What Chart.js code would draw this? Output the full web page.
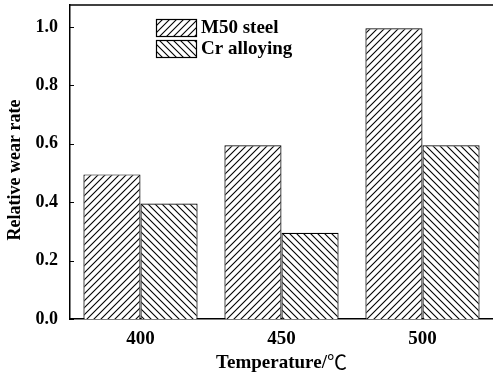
<!DOCTYPE html>
<html>
<head>
<meta charset="utf-8">
<script src="https://cdn.jsdelivr.net/npm/chart.js@4.4.1/dist/chart.umd.min.js"></script>
<style>
  html, body { margin: 0; padding: 0; background: #fff; }
  #wrap { width: 493px; height: 377px; }
</style>
</head>
<body>
<div id="wrap"><canvas id="c" width="493" height="377"></canvas></div>
<script>
// Temperatures on the x axis
const categories = ['400', '450', '500'];
// Relative wear rate for each material
const seriesNames = ['M50 steel', 'Cr alloying'];
const m50Steel = [0.495, 0.595, 0.995];
const crAlloying = [0.395, 0.295, 0.595];
// Labelled y ticks
const yTicks = [0.0, 0.2, 0.4, 0.6, 0.8, 1.0];
// Axis titles
const xTitle = 'Temperature/';
const xUnit = '℃';
const yTitle = 'Relative wear rate';

const FONT = '"Liberation Serif", "Times New Roman", serif';

// Diagonal hatch tile: dir 1 = "/", dir -1 = "\"
function hatch(dir) {
  const s = 7;
  const t = document.createElement('canvas');
  t.width = s; t.height = s;
  const g = t.getContext('2d');
  g.fillStyle = '#fff';
  g.fillRect(0, 0, s, s);
  g.strokeStyle = '#000';
  g.lineWidth = 1.1;
  g.beginPath();
  if (dir > 0) {
    g.moveTo(-1, s + 1); g.lineTo(s + 1, -1);
    g.moveTo(-1, 1); g.lineTo(1, -1);
    g.moveTo(s - 1, s + 1); g.lineTo(s + 1, s - 1);
  } else {
    g.moveTo(-1, -1); g.lineTo(s + 1, s + 1);
    g.moveTo(s - 1, -1); g.lineTo(s + 1, 1);
    g.moveTo(-1, s - 1); g.lineTo(1, s + 1);
  }
  g.stroke();
  return document.getElementById('c').getContext('2d').createPattern(t, 'repeat');
}

// Top frame line, inward y tick marks and axis titles
const framePlugin = {
  id: 'frame',
  afterDraw(chart) {
    const { ctx, chartArea } = chart;
    const y = chart.scales.y;
    ctx.save();
    ctx.strokeStyle = '#000';
    ctx.lineWidth = 1.5;
    ctx.beginPath();
    ctx.moveTo(chartArea.left, chartArea.top);
    ctx.lineTo(chartArea.right, chartArea.top);
    ctx.stroke();
    ctx.lineWidth = 1;
    yTicks.forEach(v => {
      const py = Math.round(y.getPixelForValue(v)) + 0.5;
      ctx.beginPath();
      ctx.moveTo(chartArea.left, py);
      ctx.lineTo(chartArea.left + 4, py);
      ctx.stroke();
    });

    // x title: bold text followed by a light unit sign
    ctx.fillStyle = '#000';
    ctx.textBaseline = 'middle';
    const boldFont = 'bold 19px ' + FONT;
    const unitFont = '20px "Noto Sans CJK SC", "DejaVu Sans", sans-serif';
    ctx.font = boldFont;
    const w1 = ctx.measureText(xTitle).width;
    ctx.font = unitFont;
    const w2 = ctx.measureText(xUnit).width;
    let tx = (chartArea.left + chartArea.right) / 2 - (w1 + w2) / 2;
    ctx.textAlign = 'left';
    ctx.font = boldFont;
    ctx.fillText(xTitle, tx, 363);
    ctx.font = unitFont;
    ctx.fillText(xUnit, tx + w1, 362);

    // y title, rotated
    ctx.save();
    ctx.translate(15, 170);
    ctx.rotate(-Math.PI / 2);
    ctx.textAlign = 'center';
    ctx.font = 'bold 18px ' + FONT;
    ctx.fillText(yTitle, 0, 0);
    ctx.restore();
    ctx.restore();
  }
};

// Legend drawn inside the plot area
const legendPlugin = {
  id: 'innerLegend',
  afterDraw(chart) {
    const { ctx } = chart;
    const x0 = 156, y0 = 19, bw = 40, bh = 17, gap = 21;
    ctx.save();
    ctx.font = 'bold 19px ' + FONT;
    ctx.textBaseline = 'middle';
    ctx.textAlign = 'left';
    chart.data.datasets.forEach((ds, i) => {
      const by = y0 + i * gap;
      ctx.fillStyle = ds.backgroundColor;
      ctx.fillRect(x0, by, bw, bh);
      ctx.strokeStyle = '#000';
      ctx.lineWidth = 1.2;
      ctx.strokeRect(x0 + 0.5, by + 0.5, bw, bh);
      ctx.fillStyle = '#000';
      ctx.fillText(ds.label, x0 + bw + 5, by + bh / 2 + 1);
    });
    ctx.restore();
  }
};

new Chart(document.getElementById('c'), {
  type: 'bar',
  data: {
    labels: categories,
    datasets: [
      { label: seriesNames[0], data: m50Steel, backgroundColor: hatch(1),
        borderColor: '#000', borderWidth: 1.2 },
      { label: seriesNames[1], data: crAlloying, backgroundColor: hatch(-1),
        borderColor: '#000', borderWidth: 1.2 }
    ]
  },
  options: {
    responsive: false,
    animation: false,
    devicePixelRatio: 1,
    layout: { padding: { top: 5, right: 0, left: 0, bottom: 0 } },
    datasets: { bar: { categoryPercentage: 0.81, barPercentage: 1.0 } },
    plugins: { legend: { display: false }, tooltip: { enabled: false } },
    scales: {
      x: {
        afterFit(s) { s.height = 58; s.paddingLeft = 0; s.paddingRight = 0; },
        grid: { display: false, drawTicks: false },
        border: { color: '#000', width: 1.5 },
        ticks: { color: '#000', padding: 9, font: { family: FONT, size: 19, weight: 'bold' } }
      },
      y: {
        min: 0, max: 1.075,
        afterFit(s) { s.width = 70; s.paddingTop = 0; s.paddingBottom = 0; },
        afterBuildTicks(s) { s.ticks = yTicks.map(v => ({ value: v })); },
        grid: { display: false, drawTicks: false },
        border: { color: '#000', width: 1.5 },
        ticks: { color: '#000', padding: 12, callback: v => Number(v).toFixed(1),
                 font: { family: FONT, size: 18, weight: 'bold' } }
      }
    }
  },
  plugins: [framePlugin, legendPlugin]
});
</script>
</body>
</html>
